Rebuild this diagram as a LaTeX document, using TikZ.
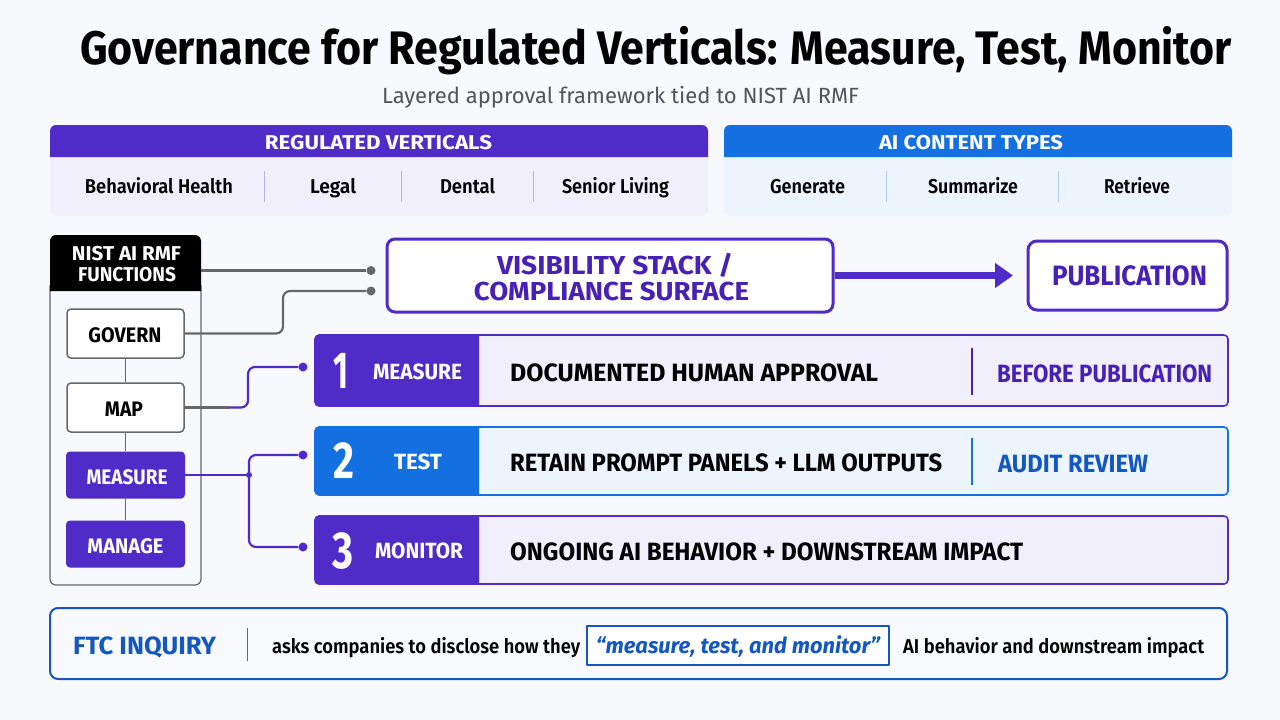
\documentclass[tikz,border=0pt]{standalone}
\usepackage{graphicx}
\usepackage{fontspec}
\setmainfont{Fira Sans}
\newfontfamily\medfont{Fira Sans SemiBold}
\usetikzlibrary{arrows.meta}
\definecolor{bgpage}{rgb}{0.973,0.976,0.992}
\definecolor{vvpurple}{rgb}{0.31,0.17,0.78}
\definecolor{ddpurple}{rgb}{0.28,0.13,0.71}
\definecolor{vvpale}{rgb}{0.949,0.937,0.988}
\definecolor{bbblue}{rgb}{0.08,0.44,0.88}
\definecolor{ddblue}{rgb}{0.08,0.34,0.75}
\definecolor{bbpale}{rgb}{0.925,0.957,0.992}
\definecolor{ftcpale}{rgb}{0.973,0.98,0.996}
\definecolor{ggline}{rgb}{0.4,0.4,0.42}
\definecolor{ggtext}{rgb}{0.32,0.33,0.36}
\definecolor{vvrule}{rgb}{0.72,0.7,0.92}
\definecolor{bbrule}{rgb}{0.7,0.8,0.94}
\newcommand{\fitw}[2]{\resizebox{#1pt}{\height}{#2}}
\tikzset{
  tx/.style={inner sep=0pt,text=black,anchor=base},
  capw/.style={tx,text=white,font=\bfseries\fontsize{20}{20}\selectfont},
  caprow/.style={tx,text=white,font=\bfseries\fontsize{22}{22}\selectfont},
  rowtx/.style={tx,anchor=base west,font=\bfseries\fontsize{25}{25}\selectfont},
  itemtx/.style={tx,font=\medfont\fontsize{20}{20}\selectfont},
  numtx/.style={tx,text=white,font=\bfseries\fontsize{52}{52}\selectfont},
  fntx/.style={tx,font=\bfseries\fontsize{21}{21}\selectfont},
  whitefn/.style={draw=ggline,line width=1.5pt,fill=white,rounded corners=4pt,minimum width=117pt,minimum height=49pt,inner sep=0pt},
  purplefn/.style={fill=vvpurple,rounded corners=4pt,minimum width=119pt,minimum height=47pt,inner sep=0pt},
  dot/.style={circle,fill=#1,minimum size=9pt,inner sep=0pt},
  link/.style={line width=2.2pt,rounded corners=7pt}
}
\begin{document}
\begin{tikzpicture}[line cap=butt,line join=round,x=1pt,y=-1pt]
\fill[bgpage] (0,0) rectangle (1280,720);
\useasboundingbox (0,0) rectangle (1280,720);
\node[tx,font=\bfseries\fontsize{47}{47}\selectfont] (title) at (656,64) {\fitw{1152}{Governance for Regulated Verticals: Measure, Test, Monitor}};
\node[tx,text=ggtext,font=\fontsize{22}{22}\selectfont] (subtitle) at (620.5,103) {\fitw{477}{Layered approval framework tied to NIST AI RMF}};
\fill[vvpale,rounded corners=6pt] (50,125) rectangle (708,216);
\fill[vvpurple] (50,157) [rounded corners=6pt] -- (50,125) -- (708,125) [sharp corners] -- (708,157) -- cycle;
\fill[bbpale,rounded corners=6pt] (724,125) rectangle (1232,216);
\fill[bbblue] (724,157) [rounded corners=6pt] -- (724,125) -- (1232,125) [sharp corners] -- (1232,157) -- cycle;
\node[capw] (verticals) at (378.5,149) {\fitw{227}{REGULATED VERTICALS}};
\node[capw] (contenttypes) at (971,149) {\fitw{184}{AI CONTENT TYPES}};
\node[itemtx] (behavioral) at (159,193) {\fitw{148}{Behavioral Health}};
\node[itemtx] (legal) at (333,193) {\fitw{46}{Legal}};
\node[itemtx] (dental) at (467.5,193) {\fitw{55}{Dental}};
\node[itemtx] (senior) at (615.5,193) {\fitw{107}{Senior Living}};
\node[itemtx] (generate) at (807.5,193) {\fitw{75}{Generate}};
\node[itemtx] (summarize) at (973,193) {\fitw{90}{Summarize}};
\node[itemtx] (retrieve) at (1137,193) {\fitw{66}{Retrieve}};
\draw[vvrule] (264,171) -- (264,202);
\draw[vvrule] (401,171) -- (401,202);
\draw[vvrule] (533,171) -- (533,202);
\draw[bbrule] (886,171) -- (886,202);
\draw[bbrule] (1058,171) -- (1058,202);
\draw[ggline,line width=1.2pt,rounded corners=6pt] (50,285) -- (50,585) -- (201,585) -- (201,285);
\fill[black] (50,291) [rounded corners=6pt] -- (50,235) -- (201,235) [sharp corners] -- (201,291) -- cycle;
\node[capw] (nisttop) at (126.5,260) {\fitw{109}{NIST AI RMF}};
\node[capw] (nistbottom) at (127,281) {\fitw{98}{FUNCTIONS}};
\coordinate (nistright) at (201,270.5);
\node[whitefn] (govern) at (125.5,333.5) {};
\node[whitefn] (map) at (125.5,407.5) {};
\node[purplefn] (measure) at (125.5,475) {};
\node[purplefn] (manage) at (125.5,544) {};
\node[fntx] (governtx) at (125,342) {\fitw{73}{GOVERN}};
\node[fntx] (maptx) at (124,416) {\fitw{38}{MAP}};
\node[fntx,text=white] (measuretx) at (127,484) {\fitw{81}{MEASURE}};
\node[fntx,text=white] (managetx) at (125.5,553) {\fitw{76}{MANAGE}};
\draw[ggline,line width=1.2pt] (govern) -- (map);
\draw[ggline,line width=1.2pt] (map) -- (measure);
\draw[ggline,line width=1.2pt] (measure) -- (manage);
\node[draw=vvpurple,line width=3pt,fill=white,rounded corners=8pt,minimum width=446pt,minimum height=73pt,inner sep=0pt] (visbox) at (610,275.5) {};
\node[tx,text=ddpurple,font=\bfseries\fontsize{26}{26}\selectfont] (vistop) at (615,274) {\fitw{236}{VISIBILITY STACK /}};
\node[tx,text=ddpurple,font=\bfseries\fontsize{26}{26}\selectfont] (visbottom) at (611.5,300) {\fitw{275}{COMPLIANCE SURFACE}};
\node[draw=vvpurple,line width=3pt,fill=white,rounded corners=9pt,minimum width=199pt,minimum height=69pt,inner sep=0pt] (pubbox) at (1127.5,275.5) {};
\node[tx,text=ddpurple,font=\bfseries\fontsize{28}{28}\selectfont] (pubtx) at (1129.5,285) {\fitw{155}{PUBLICATION}};
\coordinate (pubtip) at (1013,275.5);
\draw[vvpurple,line width=6.5pt,-{Triangle[length=18pt,width=24pt]}] (visbox.east) -- (pubtip);
\node[dot=ggline] (dotnist) at (371,270.5) {};
\node[dot=ggline] (dotgovern) at (371,291) {};
\draw[ggline,link] (nistright) -- (dotnist);
\draw[ggline,link] (govern.east) -- (283,333.5) -- (283,291) -- (dotgovern);
\fill[vvpale,draw=vvpurple,line width=1.6pt,rounded corners=4pt] (315,335) rectangle (1228,406);
\fill[vvpurple] (479,335) [rounded corners=4pt] -- (315,335) -- (315,406) [sharp corners] -- (479,406) -- cycle;
\fill[bbpale,draw=bbblue,line width=1.6pt,rounded corners=4pt] (315,427) rectangle (1228,495);
\fill[bbblue] (479,427) [rounded corners=4pt] -- (315,427) -- (315,495) [sharp corners] -- (479,495) -- cycle;
\fill[vvpale,draw=vvpurple,line width=1.6pt,rounded corners=4pt] (315,516) rectangle (1228,584);
\fill[vvpurple] (479,516) [rounded corners=4pt] -- (315,516) -- (315,584) [sharp corners] -- (479,584) -- cycle;
\node[numtx] (numone) at (341,388) {\fitw{15}{1}};
\node[numtx] (numtwo) at (344,478) {\fitw{21}{2}};
\node[numtx] (numthree) at (343,568) {\fitw{21}{3}};
\node[caprow] (rowmeasure) at (417.5,379) {\fitw{89}{MEASURE}};
\node[caprow] (rowtest) at (418,469) {\fitw{48}{TEST}};
\node[caprow] (rowmonitor) at (419,558) {\fitw{88}{MONITOR}};
\node[rowtx] (approval) at (510,381) {\fitw{368}{DOCUMENTED HUMAN APPROVAL}};
\node[rowtx] (retain) at (510,471) {\fitw{432}{RETAIN PROMPT PANELS + LLM OUTPUTS}};
\node[rowtx] (ongoing) at (510,560) {\fitw{513}{ONGOING AI BEHAVIOR + DOWNSTREAM IMPACT}};
\node[rowtx,text=ddpurple] (before) at (997,382) {\fitw{215}{BEFORE PUBLICATION}};
\node[rowtx,text=ddblue] (audit) at (998,472) {\fitw{150}{AUDIT REVIEW}};
\draw[ddpurple,line width=1.4pt] (972,348) -- (972,395);
\draw[bbblue,line width=1.4pt] (972,438) -- (972,485);
\node[dot=vvpurple] (dotone) at (303,367) {};
\node[dot=vvpurple] (dottwo) at (303,455) {};
\node[dot=vvpurple] (dotthree) at (303,547) {};
\node[dot=vvpurple,minimum size=6pt] (junction) at (249,475) {};
\draw[vvpurple,link] (map.east) -- (248,407.5) -- (248,367) -- (dotone);
\draw[ggline,line width=2.2pt] (map.east) -- (230,407.5);
\draw[vvpurple,link,rounded corners=0pt] (measure.east) -- (junction);
\draw[vvpurple,link] (dottwo) -- (249,455) -- (249,547) -- (dotthree);
\node[draw=ddblue,line width=2pt,fill=ftcpale,rounded corners=8pt,minimum width=1177pt,minimum height=71pt,inner sep=0pt] (ftcbox) at (638.5,643.5) {};
\node[tx,anchor=base west,text=ddblue,font=\bfseries\fontsize{25}{25}\selectfont] (ftc) at (73,654) {\fitw{143}{FTC INQUIRY}};
\draw[ggline,line width=0.6pt] (247,628) -- (247,661);
\node[itemtx,anchor=base west] (asks) at (272,653) {\fitw{308}{asks companies to disclose how they}};
\node[draw=ddblue,line width=1.3pt,fill=white,minimum width=302pt,minimum height=39pt,inner sep=0pt] (quotebox) at (738,645.5) {};
\node[tx,text=ddblue,font=\bfseries\itshape\fontsize{22}{22}\selectfont] (quote) at (738,653) {\fitw{284}{“measure, test, and monitor”}};
\node[itemtx,anchor=base west] (behavior) at (903,653) {\fitw{301}{AI behavior and downstream impact}};
\end{tikzpicture}
\end{document}
